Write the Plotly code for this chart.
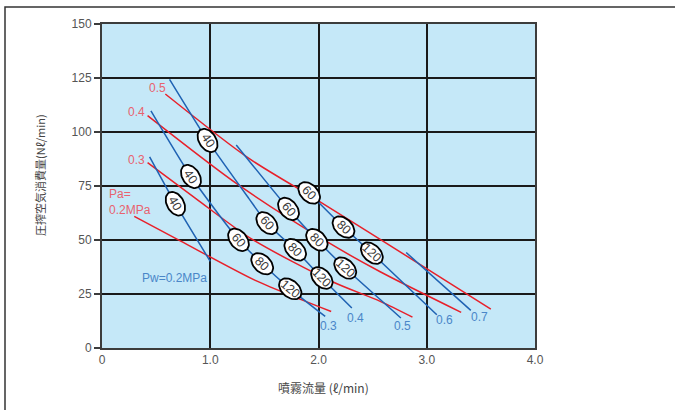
import numpy as np
import plotly.graph_objects as go

# ---- data ----
# Red curves: constant air pressure Pa (MPa)
pa02_x = [0.298, 0.723, 1.416, 1.847, 2.117]
pa02_y = [60.9, 49.6, 31.3, 22.3, 16.9]
pa03_x = [0.421, 0.861, 1.369, 2.124, 2.570, 2.868]
pa03_y = [85.8, 69.4, 50.9, 30.8, 21.6, 14.3]
pa04_x = [0.421, 1.261, 2.078, 2.570, 3.318]
pa04_y = [107.6, 75.5, 49.2, 35.3, 16.5]
pa05_x = [0.585, 1.354, 1.985, 2.570, 3.592]
pa05_y = [117.6, 87.9, 68.6, 50.3, 18.0]
pa_labels = ["Pa=<br>0.2MPa", "0.3", "0.4", "0.5"]

# Blue curves: constant water pressure Pw (MPa)
pw02_x = [0.44, 0.678, 1.0]
pw02_y = [88.5, 66.8, 40.1]
pw03_x = [0.452, 0.822, 1.261, 1.480, 1.739, 2.062]
pw03_y = [109.8, 79.4, 50.1, 39.0, 27.4, 14.6]
pw04_x = [0.624, 0.975, 1.354, 1.524, 1.785, 2.031, 2.308]
pw04_y = [124.4, 96.1, 69.4, 57.8, 45.5, 32.4, 18.5]
pw05_x = [1.240, 1.723, 1.985, 2.247, 2.761]
pw05_y = [94.0, 64.4, 50.1, 37.0, 13.9]
pw06_x = [1.914, 2.231, 2.493, 3.093]
pw06_y = [71.8, 56.0, 43.9, 15.4]
pw07_x = [2.810, 3.407]
pw07_y = [44.2, 17.4]
pw_labels = ["Pw=0.2MPa", "0.3", "0.4", "0.5", "0.6", "0.7"]

# Ellipse markers on the blue curves
mk_line = [0, 1, 1, 1, 1, 2, 2, 2, 2, 3, 3, 3, 4, 4, 4]
mk_text = ["40", "40", "60", "80", "120", "40", "60", "80", "120",
           "60", "80", "120", "60", "80", "120"]
mk_x = [0.678, 0.822, 1.261, 1.480, 1.739, 0.975, 1.524, 1.785, 2.031,
        1.723, 1.985, 2.247, 1.914, 2.231, 2.493]
mk_y = [66.8, 79.4, 50.1, 39.0, 27.4, 96.1, 57.8, 45.5, 32.4,
        64.4, 50.1, 37.0, 71.8, 56.0, 43.9]

x_ticks = [0, 1, 2, 3, 4]
x_ticktext = ["0", "1.0", "2.0", "3.0", "4.0"]
y_ticks = [0, 25, 50, 75, 100, 125, 150]

# ---- styling / layout ----
W, H = 675, 410
ML, MR, MT, MB = 102, 140, 24, 62
PW_, PH_ = W - ML - MR, H - MT - MB
XR, YR = (0, 4), (0, 150)
sx = PW_ / (XR[1] - XR[0])
sy = PH_ / (YR[1] - YR[0])

RED = "#e8202a"
BLUE = "#1f62b3"
RED_TXT = "#e8626e"
BLUE_TXT = "#4a86c8"
NUM_FONT = "Liberation Sans Narrow, Liberation Sans, Arial"
JP_FONT = "Noto Sans CJK JP"

pa_sets = [(pa02_x, pa02_y), (pa03_x, pa03_y), (pa04_x, pa04_y), (pa05_x, pa05_y)]
pw_sets = [(pw02_x, pw02_y), (pw03_x, pw03_y), (pw04_x, pw04_y),
           (pw05_x, pw05_y), (pw06_x, pw06_y), (pw07_x, pw07_y)]

fig = go.Figure()
for xs, ys in pa_sets:
    fig.add_trace(go.Scatter(x=xs, y=ys, mode="lines",
                             line=dict(color=RED, width=1.5, shape="spline", smoothing=0.8),
                             hoverinfo="skip", showlegend=False))
for xs, ys in pw_sets:
    fig.add_trace(go.Scatter(x=xs, y=ys, mode="lines",
                             line=dict(color=BLUE, width=1.5, shape="spline", smoothing=0.6),
                             hoverinfo="skip", showlegend=False))

# ellipses oriented along the local line direction
A, B = 12.8, 8.4
t = np.linspace(0, 2 * np.pi, 49)
ex, ey, annots = [], [], []
for li, txt, xm, ym in zip(mk_line, mk_text, mk_x, mk_y):
    lx, ly = np.array(pw_sets[li][0]), np.array(pw_sets[li][1])
    k = int(np.argmin(np.abs(lx - xm)))
    k0, k1 = max(k - 1, 0), min(k + 1, len(lx) - 1)
    dxp = (lx[k1] - lx[k0]) * sx
    dyp = (ly[k0] - ly[k1]) * sy
    th = np.arctan2(dyp, dxp)
    u, v = A * np.cos(t), B * np.sin(t)
    px = u * np.cos(th) - v * np.sin(th)
    py = u * np.sin(th) + v * np.cos(th)
    ex += list(xm + px / sx) + [None]
    ey += list(ym - py / sy) + [None]
    annots.append(dict(x=xm, y=ym, text=txt, showarrow=False, textangle=float(np.degrees(th)),
                       font=dict(family=NUM_FONT, size=12.5, color="#3a3a3a"),
                       xanchor="center", yanchor="middle"))
fig.add_trace(go.Scatter(x=ex, y=ey, mode="lines", fill="toself", fillcolor="white",
                         line=dict(color="black", width=1.8), hoverinfo="skip", showlegend=False))

# red labels
red_pos = [(0.05, 67.5, "left"), (0.317, 87.1, "center"), (0.323, 109.4, "center"), (0.511, 120.4, "center")]
for (x, y, anc), txt in zip(red_pos, pa_labels):
    annots.append(dict(x=x, y=y, text=txt, showarrow=False, xanchor=anc, yanchor="middle", align="left",
                       font=dict(family=NUM_FONT, size=12, color=RED_TXT)))
# blue labels
blue_pos = [(0.99, 32.4, "right"), (2.092, 10.3, "center"), (2.339, 13.9, "center"),
            (2.779, 10.0, "center"), (3.161, 12.8, "center"), (3.484, 14.3, "center")]
for (x, y, anc), txt in zip(blue_pos, pw_labels):
    annots.append(dict(x=x, y=y, text=txt, showarrow=False, xanchor=anc, yanchor="middle",
                       font=dict(family=NUM_FONT, size=12, color=BLUE_TXT)))

# axis titles
annots.append(dict(xref="paper", yref="paper", x=(276 - ML) / PW_, y=(H - MB - 387) / PH_,
                   text="噴霧流量 (ℓ/min)", showarrow=False, xanchor="left", yanchor="middle",
                   font=dict(family=JP_FONT, size=12, color="#444444")))
annots.append(dict(xref="paper", yref="paper", x=(40 - ML) / PW_, y=(H - MB - 175) / PH_,
                   text="圧搾空気消費量(Nℓ/min)", showarrow=False, textangle=-90,
                   xanchor="center", yanchor="middle",
                   font=dict(family=JP_FONT, size=11, color="#444444")))

fig.update_layout(
    width=W, height=H,
    margin=dict(l=ML, r=MR, t=MT, b=MB, pad=0),
    paper_bgcolor="white", plot_bgcolor="#c5e8f8",
    showlegend=False, hovermode=False,
    annotations=annots,
    shapes=[dict(type="rect", xref="paper", yref="paper",
                 x0=(5 - ML) / PW_, x1=2.0, y0=-1.0, y1=1 + (MT - 7) / PH_,
                 line=dict(color="#333333", width=1.5), layer="below")],
)
fig.update_xaxes(range=list(XR), tickvals=x_ticks, ticktext=x_ticktext,
                 showgrid=True, gridcolor="#1a1a1a", gridwidth=1.5,
                 showline=True, linecolor="#3c3c3c", linewidth=2, mirror=True,
                 zeroline=False, ticks="", ticklen=0,
                 tickfont=dict(family=NUM_FONT, size=12, color="#555555"))
fig.update_yaxes(range=list(YR), tickvals=y_ticks,
                 showgrid=True, gridcolor="#1a1a1a", gridwidth=1.5,
                 showline=True, linecolor="#3c3c3c", linewidth=2, mirror=True,
                 zeroline=False, ticks="outside", ticklen=6, tickcolor="#3c3c3c", tickwidth=1.5,
                 tickfont=dict(family=NUM_FONT, size=12, color="#555555"))

fig.write_html("out.html", config={"displayModeBar": False},
               post_script="document.body.style.margin='0';document.body.style.overflow='hidden';")
